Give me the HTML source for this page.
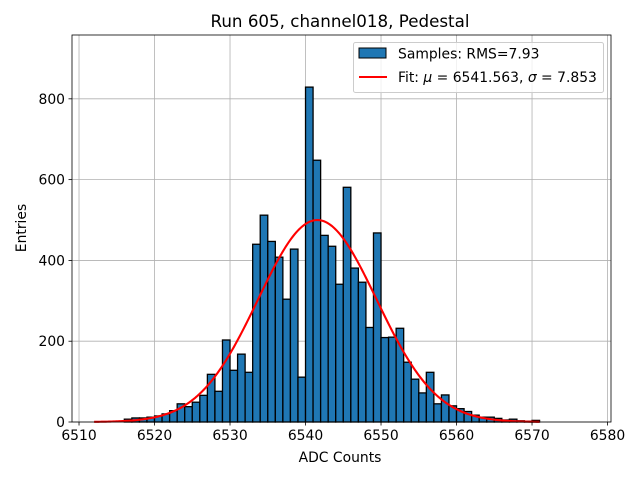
<!DOCTYPE html>
<html><head><meta charset="utf-8"><style>
body{margin:0;background:#fff;}
svg{display:block;font-family:"DejaVu Sans","Liberation Sans",sans-serif;}
</style></head><body>
<svg id="chart" width="640" height="480" xmlns="http://www.w3.org/2000/svg">
<rect width="640" height="480" fill="#fff"/>
<text x="340" y="27" font-size="16.7" text-anchor="middle">Run 605, channel018, Pedestal</text>
<g id="grid"></g><g id="bars"></g><g id="fit"></g><g id="axes"></g>
<text x="340" y="462" font-size="13.9" text-anchor="middle">ADC Counts</text>
<text transform="translate(26,228) rotate(-90)" font-size="13.9" text-anchor="middle">Entries</text>
<g>
<rect x="353.5" y="42.5" width="250" height="50" rx="2" fill="#fff" fill-opacity="0.8" stroke="#ccc"/>
<rect x="359" y="48" width="27" height="10" fill="#1f77b4" stroke="#000"/>
<text x="398" y="58.5" font-size="13.9">Samples: RMS=7.93</text>
<line x1="359" y1="77" x2="387" y2="77" stroke="red" stroke-width="2.1"/>
<text x="398" y="82" font-size="13.9">Fit: <tspan font-style="italic">μ</tspan> = 6541.563, <tspan font-style="italic">σ</tspan> = 7.853</text>
</g>
</svg>
<script>
const binStart = 6516;
const counts = [7,10,10,12,15,20,28,45,38,49,66,118,76,203,128,168,123,440,512,447,408,304,428,111,829,648,
462,435,341,581,381,346,234,468,209,210,232,148,106,72,123,45,67,40,33,26,17,12,12,9,5,7,3,2,4];
const fitMu = 6541.563, fitSigma = 7.853, fitAmp = 500;
const fitRange = [6512, 6571];
const xTicks = [6510,6520,6530,6540,6550,6560,6570,6580];
const yTicks = [0,200,400,600,800];
const L=72,R=611,T=35,B=422;
const xMin=6509.07,xMax=6580.46,yMax=958;
const X=v=>L+(v-xMin)/(xMax-xMin)*(R-L);
const Y=v=>B-v/yMax*(B-T);
const NS='http://www.w3.org/2000/svg';
function mk(tag,attrs,parent){const e=document.createElementNS(NS,tag);for(const k in attrs)e.setAttribute(k,attrs[k]);document.getElementById(parent).appendChild(e);return e;}
xTicks.forEach(t=>{
 const g=mk('line',{x1:X(t),x2:X(t),y1:T,y2:B,stroke:'#b0b0b0','stroke-width':0.8},'grid');
 
 
 const k=mk('line',{x1:X(t),x2:X(t),y1:B,y2:B+3.5,stroke:'#000','stroke-width':0.8},'axes');
 
 
 const l=mk('text',{x:X(t),y:B+18,'font-size':13.9,'text-anchor':'middle'},'axes');l.textContent=t;
 
 
});
yTicks.forEach(t=>{
 const g=mk('line',{x1:L,x2:R,y1:Y(t),y2:Y(t),stroke:'#b0b0b0','stroke-width':0.8},'grid');
 
 
 const k=mk('line',{x1:L-3.5,x2:L,y1:Y(t),y2:Y(t),stroke:'#000','stroke-width':0.8},'axes');
 
 
 const l=mk('text',{x:L-7,y:Y(t)+5,'font-size':13.9,'text-anchor':'end'},'axes');l.textContent=t;
 
 
});
counts.forEach((c,i)=>{
 const x0=X(binStart+i),x1=X(binStart+i+1);
 const b=mk('rect',{x:x0,y:Y(c),width:x1-x0,height:B-Y(c),fill:'#1f77b4',stroke:'#000','stroke-width':1.3},'bars');
 
 
});
let d='';
for(let i=0;i<=300;i++){const v=fitRange[0]+(fitRange[1]-fitRange[0])*i/300;
 const y=fitAmp*Math.exp(-0.5*((v-fitMu)/fitSigma)**2);
 d+=(i?'L':'M')+X(v).toFixed(2)+','+Y(y).toFixed(2);}
const p=mk('path',{d:d,fill:'none',stroke:'red','stroke-width':2.1},'fit');


const fr=mk('rect',{x:L,y:T,width:R-L,height:B-T,fill:'none',stroke:'#000','stroke-width':0.8},'axes');


</script>
</body></html>
